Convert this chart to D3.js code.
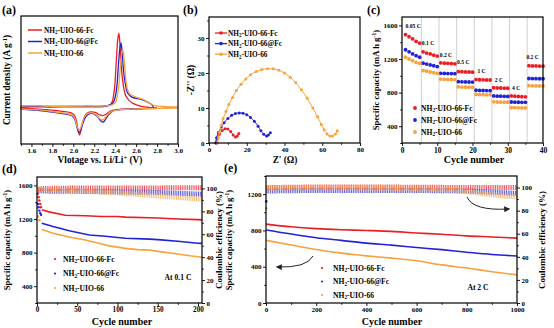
<!DOCTYPE html>
<html><head><meta charset="utf-8">
<script src="https://cdn.jsdelivr.net/npm/d3@7"></script>
<style>body{margin:0;background:#fff}svg{display:block}</style>
</head><body><svg id="c" width="554" height="328"></svg>
<script>
// ---------- DATA ----------
const seriesNames = ["NH2-UIO-66-Fc", "NH2-UIO-66@Fc", "NH2-UIO-66"];
const colors = ["#ec1c24", "#2222d6", "#f7a23c"];

// (a) CV curves [V, current density]
const cvRed = [[2.80,-0.05],[2.60,-0.06],[2.45,-0.08],[2.38,-0.12],[2.34,-0.2],[2.31,-0.3],[2.28,-0.36],[2.25,-0.32],[2.21,-0.22],[2.16,-0.2],[2.12,-0.3],[2.09,-0.65],[2.07,-1.05],[2.06,-1.21],[2.045,-1.0],[2.03,-0.6],[2.01,-0.35],[1.98,-0.24],[1.90,-0.17],[1.75,-0.1],[1.60,-0.05],[1.50,-0.02],
  [1.50,0.0],[1.80,0.02],[2.10,0.03],[2.30,0.05],[2.36,0.15],[2.39,0.7],[2.41,2.0],[2.425,3.0],[2.435,3.25],[2.445,2.8],[2.46,1.7],[2.48,0.9],[2.50,0.52],[2.53,0.32],[2.57,0.18],[2.64,0.06],[2.80,-0.02]];
const cvBlue = [[2.77,-0.03],[2.60,-0.06],[2.45,-0.1],[2.38,-0.15],[2.34,-0.3],[2.31,-0.5],[2.285,-0.64],[2.26,-0.58],[2.23,-0.4],[2.19,-0.27],[2.15,-0.28],[2.12,-0.4],[2.09,-0.7],[2.07,-1.0],[2.055,-1.1],[2.04,-0.95],[2.02,-0.6],[2.0,-0.42],[1.96,-0.32],[1.90,-0.27],[1.80,-0.2],[1.65,-0.12],[1.50,-0.05],
  [1.50,0.03],[1.80,0.04],[2.10,0.05],[2.33,0.08],[2.38,0.2],[2.41,0.7],[2.43,1.8],[2.445,2.6],[2.455,2.82],[2.465,2.5],[2.48,1.6],[2.50,0.95],[2.52,0.62],[2.56,0.45],[2.62,0.38],[2.68,0.3],[2.73,0.18],[2.76,0.06],[2.77,-0.03]];
const cvOrange = [[3.0,-0.03],[2.80,-0.04],[2.60,-0.06],[2.45,-0.1],[2.38,-0.15],[2.34,-0.25],[2.31,-0.42],[2.28,-0.55],[2.25,-0.48],[2.22,-0.33],[2.18,-0.24],[2.14,-0.26],[2.11,-0.38],[2.09,-0.62],[2.07,-0.9],[2.055,-1.0],[2.04,-0.88],[2.02,-0.55],[2.0,-0.38],[1.96,-0.29],[1.90,-0.24],[1.80,-0.18],[1.65,-0.1],[1.50,-0.04],
  [1.50,0.04],[1.80,0.05],[2.10,0.06],[2.35,0.09],[2.40,0.2],[2.43,0.8],[2.45,1.8],[2.465,2.4],[2.475,2.47],[2.485,2.1],[2.50,1.3],[2.52,0.75],[2.55,0.55],[2.62,0.42],[2.68,0.32],[2.73,0.17],[2.78,0.08],[2.85,0.04],[3.0,0.02]];
const cvXTicks = [1.6, 1.8, 2.0, 2.2, 2.4, 2.6, 2.8, 3.0];

// (b) Nyquist [Z', -Z'']
const eisRed = [[4,0],[4.5,1.3],[5.5,2.5],[7,3.6],[8.5,4.1],[10,4],[11.5,3.3],[12.8,2.3],[14,1.7],[15,2],[15.8,2.7]];
const eisBlue = [[3.5,0],[4,1.5],[5,3],[6.5,4.6],[8,5.8],[10,7],[12,7.9],[14,8.4],[16,8.6],[18,8.5],[20,8.1],[22,7.3],[24,6.2],[26,4.8],[27.5,3.5],[29,2.5],[30.5,2],[31.5,2.3],[32.5,2.9]];
const eisOrange = [[4.5,0],[5,1.5],[5.5,3],[6.5,5],[7.5,7],[9,9],[10.5,11],[12.5,13],[14.5,15],[17,16.8],[19.5,18.3],[22,19.5],[25,20.4],[28,21],[31,21.2],[34,21.2],[37,20.8],[40,20],[43,18.8],[46,17.2],[49,15.2],[52,12.8],[55,10],[57.5,7.5],[59.5,5.3],[61,3.8],[62.5,2.6],[64,2],[65.5,2],[67,2.6],[68,3.5]];
const eisXTicks = [0, 20, 40, 60, 80];
const eisYTicks = [0, 10, 20, 30];

// (c) rate capability, cycles 1..40
const rateCycles = d3.range(1, 41);
const rateRed = [1490,1465,1440,1410,1390, 1285,1270,1260,1245,1235, 1155,1150,1148,1145,1142, 1050,1048,1046,1045,1043, 955,953,952,950,950, 858,856,855,853,852, 760,757,755,752,750, 1120,1118,1117,1116,1115];
const rateBlue = [1310,1285,1260,1240,1222, 1150,1140,1130,1120,1110, 1030,1028,1027,1026,1025, 930,928,927,926,925, 828,826,825,824,823, 760,758,757,756,755, 688,686,685,684,684, 968,967,966,965,965];
const rateOrange = [1222,1200,1180,1160,1148, 1062,1055,1045,1038,1030, 960,958,957,956,955, 868,866,865,864,863, 778,776,775,774,773, 690,688,687,686,685, 622,620,619,618,617, 882,881,880,880,879];
const rateLabels = ["0.05 C", "0.1 C", "0.2 C", "0.5 C", "1 C", "2 C", "4 C", "0.2 C"];
const rateLabelAnchors = [[1,1570],[5.6,1370],[10.7,1222],[15.6,1135],[21.4,1038],[26.3,930],[31.2,832],[35.3,1198]];
const rateDividers = [5.5, 10.5, 15.5, 20.5, 25.5, 30.5, 35.5];

// (d) 0.1 C cycling: capacity [cycle, mAh/g], coulombic efficiency [cycle, %]
const dCapRed = [[1,1500],[2,1460],[3,1420],[4,1380],[5,1340],[6,1310],[15,1285],[35,1245],[60,1238],[80,1230],[100,1230],[110,1222],[150,1212],[175,1200],[200,1192],[205,1190]];
const dCapBlue = [[1,1380],[2,1340],[3,1300],[4,1270],[5,1250],[6,1150],[20,1110],[40,1060],[65,1010],[85,995],[100,980],[110,970],[140,960],[150,955],[175,935],[200,912],[205,910]];
const dCapOrange = [[1,1230],[3,1185],[6,1075],[20,1030],[40,985],[60,950],[75,915],[90,880],[110,850],[125,835],[140,830],[150,815],[170,790],[190,762],[205,745]];
const dCERed = [[1,99.5],[10,100],[50,100.4],[100,100.3],[150,100.5],[205,100.6]];
const dCEBlue = [[1,98],[20,97.5],[50,97.5],[100,97],[150,96.5],[205,95]];
const dCEOrange = [[1,99],[30,98.5],[60,97.5],[100,96],[150,93.5],[205,90.5]];

// (e) 2 C cycling
const eCapRed = [[1,870],[100,840],[200,820],[300,808],[400,800],[500,790],[600,772],[700,758],[800,740],[900,728],[1000,715]];
const eCapBlue = [[1,805],[100,760],[200,720],[300,690],[400,660],[500,638],[600,612],[700,588],[800,560],[900,535],[1000,518]];
const eCapOrange = [[1,690],[100,640],[200,590],[300,550],[400,520],[500,495],[600,465],[700,420],[800,385],[900,345],[1000,310]];
const eCERed = [[2,100],[200,100.5],[400,100.5],[600,100.3],[800,100],[1000,100]];
const eCEBlue = [[2,97],[200,97.5],[400,97.5],[600,97.5],[800,97],[900,96],[1000,95]];
const eCEOrange = [[2,99.5],[200,100],[400,99.5],[600,99],[750,98],[850,95],[950,92.5],[1000,92]];
const eCEFirst = [[1,88,1],[1,82,2]];

// ---------- DRAWING ----------
const FONT = '"Liberation Serif","Times New Roman",serif';
const svg = d3.select("#c").attr("font-family", FONT).attr("font-weight", "bold");
const fmtInt = d3.format("d");

const defs = svg.append("defs");
defs.append("marker").attr("id","arr").attr("viewBox","0 0 10 10").attr("refX",8).attr("refY",5)
  .attr("markerWidth",6).attr("markerHeight",6).attr("orient","auto-start-reverse")
  .append("path").attr("d","M0,0 L10,5 L0,10 z").attr("fill","#222");

function frame(x, y) {
  const [x0, x1] = x.range(), [y0, y1] = y.range();
  svg.append("rect").attr("x", x0).attr("y", y1).attr("width", x1 - x0).attr("height", y0 - y1)
    .attr("fill", "none").attr("stroke", "#000").attr("stroke-width", 1.2);
}
function axis(gen, tx, ty, fs) {
  const g = svg.append("g").attr("transform", `translate(${tx},${ty})`).call(gen);
  g.attr("font-family", FONT).attr("font-size", fs || 7).attr("font-weight", "bold");
  g.select(".domain").remove();
  g.selectAll("line").attr("stroke", "#000").attr("stroke-width", 0.9);
  g.selectAll("text").attr("fill", "#000");
  return g;
}
function nameT(sel, s) {
  sel.append("tspan").text("NH");
  sel.append("tspan").attr("dy", 1.8).attr("font-size", "0.7em").text("2");
  sel.append("tspan").attr("dy", -1.8).text(s.slice(3));
}
function supT(sel, a, sup, b) {
  sel.append("tspan").text(a);
  sel.append("tspan").attr("dy", -3).attr("font-size", "0.7em").text(sup);
  sel.append("tspan").attr("dy", 3).text(b);
}
function ytitle(x, y, fs) {
  return svg.append("text").attr("transform", `translate(${x},${y}) rotate(-90)`)
    .attr("text-anchor", "middle").attr("font-size", fs);
}
function label(x, y, t) {
  svg.append("text").attr("x", x).attr("y", y).attr("font-size", 12).text(t);
}

// ----- (a)
{
  const x = d3.scaleLinear().domain([1.5, 3.0]).range([21, 178]);
  const y = d3.scaleLinear().domain([-1.6, 4.0]).range([144, 16]);
  const line = d3.line().x(d => x(d[0])).y(d => y(d[1])).curve(d3.curveCatmullRom.alpha(0.5));
  [cvRed, cvBlue, cvOrange].forEach((s, i) => {
    svg.append("path").datum(s).attr("d", line).attr("fill", "none").attr("stroke", colors[i]).attr("stroke-width", 1.3);
  });
  frame(x, y);
  axis(d3.axisBottom(x).tickValues(cvXTicks).tickFormat(d3.format(".1f")).tickSize(3).tickPadding(1.5), 0, 144);
  axis(d3.axisBottom(x).tickValues(d3.range(1.5, 3.0, 0.2)).tickFormat("").tickSize(1.8), 0, 144);
  seriesNames.forEach((n, i) => {
    const yy = 30 + i * 11.5;
    svg.append("line").attr("x1", 28).attr("x2", 42).attr("y1", yy).attr("y2", yy).attr("stroke", colors[i]).attr("stroke-width", 1.5);
    svg.append("text").attr("x", 44).attr("y", yy + 2.5).attr("font-size", 7.3).call(nameT, n);
  });
  const t = ytitle(10, 80, 9.3); supT(t, "Current density (A g", "-1", ")");
  const xt = svg.append("text").attr("x", 100).attr("y", 163).attr("text-anchor", "middle").attr("font-size", 9.3);
  supT(xt, "Vlotage vs. Li/Li", "+", " (V)");
  label(2, 14, "(a)");
}

// ----- (b)
{
  const x = d3.scaleLinear().domain([0, 80]).range([209, 360]);
  const y = d3.scaleLinear().domain([0, 36]).range([143, 17]);
  const line = d3.line().x(d => x(d[0])).y(d => y(d[1])).curve(d3.curveCatmullRom.alpha(0.5));
  [eisRed, eisBlue, eisOrange].forEach((s, i) => {
    svg.append("path").datum(s).attr("d", line).attr("fill", "none").attr("stroke", colors[i]).attr("stroke-width", 1);
    svg.append("g").selectAll("circle").data(s).join("circle").attr("cx", d => x(d[0])).attr("cy", d => y(d[1]))
      .attr("r", 1.5).attr("fill", colors[i]);
  });
  frame(x, y);
  axis(d3.axisBottom(x).tickValues(eisXTicks).tickSize(3).tickPadding(1.5), 0, 143);
  axis(d3.axisBottom(x).tickValues([10, 30, 50, 70]).tickFormat("").tickSize(1.8), 0, 143);
  axis(d3.axisLeft(y).tickValues(eisYTicks).tickSize(3).tickPadding(1.5), 209, 0);
  axis(d3.axisLeft(y).tickValues([5, 15, 25, 35]).tickFormat("").tickSize(1.8), 209, 0);
  seriesNames.forEach((n, i) => {
    const yy = 33 + i * 10.6;
    svg.append("line").attr("x1", 215).attr("x2", 227).attr("y1", yy).attr("y2", yy).attr("stroke", colors[i]).attr("stroke-width", 1.3);
    svg.append("circle").attr("cx", 221).attr("cy", yy).attr("r", 1.8).attr("fill", colors[i]);
    svg.append("text").attr("x", 228).attr("y", yy + 2.5).attr("font-size", 7.3).call(nameT, n);
  });
  ytitle(194, 80, 9.3).text("-Z'' (Ω)");
  svg.append("text").attr("x", 285).attr("y", 163).attr("text-anchor", "middle").attr("font-size", 9.3).text("Z' (Ω)");
  label(183, 14, "(b)");
}

// ----- (c)
{
  const x = d3.scaleLinear().domain([0, 40]).range([402, 543]);
  const y = d3.scaleLinear().domain([200, 1700]).range([143, 17]);
  svg.append("g").selectAll("line").data(rateDividers).join("line")
    .attr("x1", d => x(d)).attr("x2", d => x(d)).attr("y1", 17).attr("y2", 143)
    .attr("stroke", "#bbb").attr("stroke-width", 0.7);
  [rateRed, rateBlue, rateOrange].forEach((s, i) => {
    svg.append("g").selectAll("circle").data(s).join("circle")
      .attr("cx", (d, j) => x(rateCycles[j])).attr("cy", d => y(d)).attr("r", 1.9).attr("fill", colors[i]);
  });
  rateLabels.forEach((t, i) => {
    svg.append("text").attr("x", x(rateLabelAnchors[i][0])).attr("y", y(rateLabelAnchors[i][1]))
      .attr("font-size", 5.6).text(t);
  });
  frame(x, y);
  axis(d3.axisBottom(x).tickValues([0, 10, 20, 30, 40]).tickSize(3).tickPadding(1.5), 0, 143, 7.5);
  axis(d3.axisBottom(x).tickValues([5, 15, 25, 35]).tickFormat("").tickSize(1.8), 0, 143);
  axis(d3.axisLeft(y).tickValues([400, 800, 1200, 1600]).tickFormat(fmtInt).tickSize(3).tickPadding(1.5), 402, 0);
  axis(d3.axisLeft(y).tickValues([200, 600, 1000, 1400]).tickFormat("").tickSize(1.8), 402, 0);
  seriesNames.forEach((n, i) => {
    const yy = 108 + i * 12;
    svg.append("circle").attr("cx", 415).attr("cy", yy).attr("r", 1.9).attr("fill", colors[i]);
    svg.append("text").attr("x", 421).attr("y", yy + 2.5).attr("font-size", 7.6).call(nameT, n);
  });
  const t = ytitle(379, 80, 8.6); supT(t, "Specific capacity (mA h g", "-1", ")");
  svg.append("text").attr("x", 474).attr("y", 163).attr("text-anchor", "middle").attr("font-size", 10).text("Cycle number");
  label(367, 14, "(c)");
}

// ----- (d)
{
  const x = d3.scaleLinear().domain([0, 205]).range([37, 202]);
  const y = d3.scaleLinear().domain([200, 1700]).range([303, 177]);
  const y2 = d3.scaleLinear().domain([0, 110]).range([303, 177]);
  const ceLine = d3.line().x(d => x(d[0])).y(d => y2(d[1]));
  [dCEBlue, dCERed, dCEOrange].forEach((s, k) => {
    const i = [1, 0, 2][k];
    svg.append("path").datum(s).attr("d", ceLine).attr("fill", "none").attr("stroke", colors[i])
      .attr("stroke-width", 5).attr("stroke-dasharray", "1 0.8").attr("opacity", 0.75);
  });
  const capLine = d3.line().x(d => x(d[0])).y(d => y(d[1]));
  [dCapRed, dCapBlue, dCapOrange].forEach((s, i) => {
    svg.append("path").datum(s.filter(d => d[0] >= 6)).attr("d", capLine).attr("fill", "none").attr("stroke", colors[i]).attr("stroke-width", 1.6);
    svg.append("g").selectAll("circle").data(s.filter(d => d[0] < 6)).join("circle")
      .attr("cx", d => x(d[0])).attr("cy", d => y(d[1])).attr("r", 1.2).attr("fill", colors[i]);
  });
  frame(x, y);
  axis(d3.axisBottom(x).tickValues([0, 50, 100, 150, 200]).tickSize(3).tickPadding(1), 0, 303, 7.2);
  axis(d3.axisBottom(x).tickValues([25, 75, 125, 175]).tickFormat("").tickSize(1.8), 0, 303);
  axis(d3.axisLeft(y).tickValues([400, 800, 1200, 1600]).tickFormat(fmtInt).tickSize(3).tickPadding(1.5), 37, 0);
  axis(d3.axisLeft(y).tickValues([200, 600, 1000, 1400]).tickFormat("").tickSize(1.8), 37, 0);
  axis(d3.axisRight(y2).tickValues([0, 20, 40, 60, 80, 100]).tickSize(3).tickPadding(1.5), 202, 0);
  axis(d3.axisRight(y2).tickValues([10, 30, 50, 70, 90]).tickFormat("").tickSize(1.8), 202, 0);
  seriesNames.forEach((n, i) => {
    const yy = 259 + i * 14.5;
    svg.append("circle").attr("cx", 55).attr("cy", yy).attr("r", 1.1).attr("fill", colors[i]);
    svg.append("text").attr("x", 63).attr("y", yy + 2.5).attr("font-size", 7.6).call(nameT, n);
  });
  svg.append("text").attr("x", 178).attr("y", 280).attr("text-anchor", "middle").attr("font-size", 7.6).text("At 0.1 C");
  const t = ytitle(10, 240, 8.6); supT(t, "Specific capacity (mA h g", "-1", ")");
  ytitle(222, 240, 9).text("Coulombic efficiency (%)");
  svg.append("text").attr("x", 122).attr("y", 324.5).attr("text-anchor", "middle").attr("font-size", 10).text("Cycle number");
  label(2, 173, "(d)");
}

// ----- (e)
{
  const x = d3.scaleLinear().domain([0, 1000]).range([266, 517]);
  const y = d3.scaleLinear().domain([0, 1400]).range([303, 176]);
  const y2 = d3.scaleLinear().domain([0, 110]).range([303, 176]);
  const ceLine = d3.line().x(d => x(d[0])).y(d => y2(d[1]));
  [eCEBlue, eCERed, eCEOrange].forEach((s, k) => {
    const i = [1, 0, 2][k];
    svg.append("path").datum(s).attr("d", ceLine).attr("fill", "none").attr("stroke", colors[i])
      .attr("stroke-width", 5).attr("stroke-dasharray", "1 0.8").attr("opacity", 0.75);
  });
  svg.append("g").selectAll("circle").data(eCEFirst).join("circle")
    .attr("cx", d => x(d[0])).attr("cy", d => y2(d[1])).attr("r", 1.3).attr("fill", d => colors[d[2]]);
  const capLine = d3.line().x(d => x(d[0])).y(d => y(d[1])).curve(d3.curveMonotoneX);
  [eCapRed, eCapBlue, eCapOrange].forEach((s, i) => {
    svg.append("path").datum(s).attr("d", capLine).attr("fill", "none").attr("stroke", colors[i]).attr("stroke-width", 1.6);
  });
  frame(x, y);
  axis(d3.axisBottom(x).tickValues([0, 200, 400, 600, 800, 1000]).tickFormat(fmtInt).tickSize(3).tickPadding(1.5), 0, 303, 7);
  axis(d3.axisBottom(x).tickValues([100, 300, 500, 700, 900]).tickFormat("").tickSize(1.8), 0, 303);
  axis(d3.axisLeft(y).tickValues([0, 400, 800, 1200]).tickFormat(fmtInt).tickSize(3).tickPadding(1.5), 266, 0);
  axis(d3.axisLeft(y).tickValues([200, 600, 1000, 1400]).tickFormat("").tickSize(1.8), 266, 0);
  axis(d3.axisRight(y2).tickValues([0, 20, 40, 60, 80, 100]).tickSize(3).tickPadding(1.5), 517, 0);
  axis(d3.axisRight(y2).tickValues([10, 30, 50, 70, 90]).tickFormat("").tickSize(1.8), 517, 0);
  seriesNames.forEach((n, i) => {
    const yy = 268 + i * 13.5;
    svg.append("circle").attr("cx", 322).attr("cy", yy).attr("r", 1.1).attr("fill", colors[i]);
    svg.append("text").attr("x", 333).attr("y", yy + 2.5).attr("font-size", 7.6).call(nameT, n);
  });
  svg.append("text").attr("x", 478).attr("y", 290).attr("text-anchor", "middle").attr("font-size", 7.6).text("At 2 C");
  svg.append("path").attr("d", "M313,256 Q307,268 277,267").attr("fill", "none").attr("stroke", "#222").attr("stroke-width", 1).attr("marker-end", "url(#arr)");
  svg.append("path").attr("d", "M467,197 Q473,211 509,209").attr("fill", "none").attr("stroke", "#222").attr("stroke-width", 1).attr("marker-end", "url(#arr)");
  const t = ytitle(232, 240, 8.6); supT(t, "Specific capacity (mA h g", "-1", ")");
  ytitle(545, 240, 9).text("Coulombic efficiency (%)");
  svg.append("text").attr("x", 392).attr("y", 324.5).attr("text-anchor", "middle").attr("font-size", 10).text("Cycle number");
  label(224, 172, "(e)");
}
</script></body></html>
